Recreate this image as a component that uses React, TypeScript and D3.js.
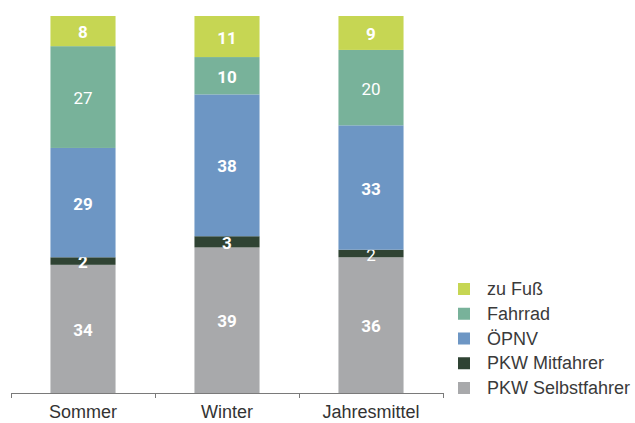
import React from "react";
import * as d3 from "d3";

const categories = ["Sommer", "Winter", "Jahresmittel"];
const seriesKeys = ["PKW Selbstfahrer", "PKW Mitfahrer", "ÖPNV", "Fahrrad", "zu Fuß"];
const pkwSelbst = [34, 39, 36];
const pkwMit = [2, 3, 2];
const oepnv = [29, 38, 33];
const fahrrad = [27, 10, 20];
const zuFuss = [8, 11, 9];
const legendOrder = ["zu Fuß", "Fahrrad", "ÖPNV", "PKW Mitfahrer", "PKW Selbstfahrer"];

const colors: Record<string, string> = {
  "PKW Selbstfahrer": "#a8a9ab",
  "PKW Mitfahrer": "#2f4333",
  "ÖPNV": "#6d96c4",
  "Fahrrad": "#78b29a",
  "zu Fuß": "#c6d653",
};
// labels rendered in regular weight in the reference
const lightLabels = new Set(["Sommer|Fahrrad", "Jahresmittel|Fahrrad", "Jahresmittel|PKW Mitfahrer"]);

const W = 635;
const H = 423;

export default function App() {
  const rows = categories.map((c, i) => ({
    cat: c,
    "PKW Selbstfahrer": pkwSelbst[i],
    "PKW Mitfahrer": pkwMit[i],
    "ÖPNV": oepnv[i],
    "Fahrrad": fahrrad[i],
    "zu Fuß": zuFuss[i],
  }));
  const stack = d3.stack<any>().keys(seriesKeys).offset(d3.stackOffsetExpand);
  const series = stack(rows);

  const x = d3.scaleBand<string>().domain(categories).range([11, 443]).padding(0);
  const barW = x.bandwidth() * 0.452;
  const y = d3.scaleLinear().domain([0, 1]).range([393, 16]);

  const tickXs = [...categories.map((c) => x(c)!), 443];

  return (
    <svg width={W} height={H} style={{ position: "absolute", left: 0, top: 0, display: "block" }}>
      <rect width={W} height={H} fill="#fff" />
      {series.map((s) => (
        <g key={s.key}>
          {s.map((d, i) => {
            const cat = categories[i];
            const cx = x(cat)! + x.bandwidth() / 2;
            const y0 = y(d[0]);
            const y1 = y(d[1]);
            const val = (rows[i] as any)[s.key];
            const light = lightLabels.has(cat + "|" + s.key);
            return (
              <g key={cat}>
                <rect x={cx - barW / 2} y={y1} width={barW} height={y0 - y1} fill={colors[s.key]} />
                <text
                  x={cx}
                  y={(y0 + y1) / 2 + 1}
                  textAnchor="middle"
                  dominantBaseline="central"
                  fill="#fff"
                  fontFamily="Roboto, 'Liberation Sans', sans-serif"
                  fontWeight={light ? 400 : 700}
                  fontSize={17}
                >
                  {val}
                </text>
              </g>
            );
          })}
        </g>
      ))}
      <line x1={11} x2={443} y1={393.5} y2={393.5} stroke="#7a7a7a" strokeWidth={1} />
      {tickXs.map((t, i) => (
        <line key={i} x1={t + 0.5} x2={t + 0.5} y1={393} y2={398} stroke="#7a7a7a" strokeWidth={1} />
      ))}
      {categories.map((c) => (
        <text
          key={c}
          x={x(c)! + x.bandwidth() / 2}
          y={418}
          textAnchor="middle"
          fill="#333"
          fontFamily="'Liberation Sans', Arial, sans-serif"
          fontSize={18}
        >
          {c}
        </text>
      ))}
      {legendOrder.map((k, i) => (
        <g key={k} transform={`translate(458, ${289 + i * 24.75})`}>
          <rect x={0} y={-6} width={12} height={12} fill={colors[k]} />
          <text
            x={29}
            y={0}
            dominantBaseline="central"
            fill="#3a3a3a"
            fontFamily="'Liberation Sans', Arial, sans-serif"
            fontSize={18}
          >
            {k}
          </text>
        </g>
      ))}
    </svg>
  );
}
